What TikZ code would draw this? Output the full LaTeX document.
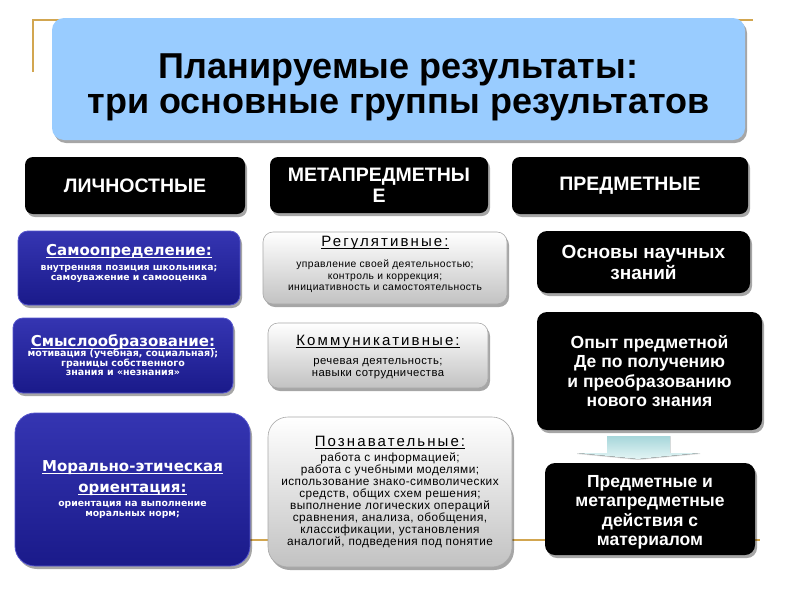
\documentclass[tikz,border=0pt]{standalone}
\usepackage{fontspec}
\setmainfont{Liberation Sans}
\newfontfamily\dvs{DejaVu Sans}
\newfontfamily\lsp[LetterSpace=14]{Liberation Sans}
\newfontfamily\lss[LetterSpace=4]{Liberation Sans}
\usetikzlibrary{shadows}
\definecolor{titleblue}{HTML}{99CCFF}
\definecolor{gold}{HTML}{D2A650}
\definecolor{bluetop}{HTML}{3535B2}
\definecolor{bluebot}{HTML}{1A1A8A}
\definecolor{blueedge}{HTML}{5555CC}
\definecolor{greyedge}{HTML}{A8A8A8}
\definecolor{greybot}{HTML}{C2C2C2}
\definecolor{arrtop}{HTML}{A6D6DA}
\definecolor{arrbot}{HTML}{E4F5F5}
\newcommand{\hdblue}{\dvs\bfseries\fontsize{15}{21}\selectfont}
\newcommand{\smb}[2]{\dvs\bfseries\fontsize{#1}{#2}\selectfont}
\newcommand{\hdgrey}{\lsp\fontsize{15}{18}\selectfont}
\newcommand{\smg}[2]{\lss\fontsize{#1}{#2}\selectfont}
\newcommand{\uln}[1]{\leavevmode\setbox0=\hbox{#1}\rlap{\rule[-2.2pt]{\wd0}{1.1pt}}\box0}
\newcommand{\blockt}[4]{\begin{minipage}{#1}\centering\lineskiplimit=-100pt\kern#2\relax #4\par\kern#3\relax\end{minipage}}
\begin{document}
\begin{tikzpicture}[x=1pt,y=-1pt,
  every node/.style={inner sep=0pt,outer sep=0pt},
  shad/.style={drop shadow={shadow xshift=2pt,shadow yshift=-3pt,fill=black,opacity=0.35}},
  titlebox/.style={shad,fill=titleblue,rounded corners=12pt},
  headbox/.style={shad,fill=black,rounded corners=8pt,text=white,align=center,font=\bfseries\fontsize{19.5}{21}\selectfont},
  bluebox/.style={shad,top color=bluetop,bottom color=bluebot,draw=blueedge,line width=0.8pt,rounded corners=10pt,text=white},
  bigblue/.style={bluebox,rounded corners=20pt},
  greybox/.style={shad,top color=white,bottom color=greybot,draw=greyedge,line width=0.6pt,rounded corners=10pt,text=black},
  biggrey/.style={greybox,rounded corners=20pt},
  darkbox/.style={shad,fill=black,rounded corners=10pt,text=white,align=center,font=\bfseries\fontsize{17.5}{19.5}\selectfont},
  goldline/.style={draw=gold,line width=1.2pt}
]
\useasboundingbox[fill=white] (0,0) rectangle (800,600);

% gold frame lines
\coordinate (g1) at (33,72);
\coordinate (g2) at (33,20);
\coordinate (g3) at (60,20);
\coordinate (g4) at (735,20);
\coordinate (g5) at (753,20);
\coordinate (g6) at (40,540);
\coordinate (g7) at (760,540);
\draw[goldline] (g1) -- (g2) -- (g3);
\draw[goldline] (g4) -- (g5);
\draw[goldline] (g6) -- (g7);

% title
\node[titlebox,minimum width=693pt,minimum height=122pt] (title) at (398.5,79)
  {\blockt{680pt}{17pt}{0pt}{\bfseries\fontsize{36}{35}\selectfont Планируемые результаты:\\ три основные группы результатов}};

% headers
\node[headbox,minimum width=220pt,minimum height=57pt] (h1) at (135,185.5) {ЛИЧНОСТНЫЕ};
\node[headbox,minimum width=218pt,minimum height=56pt] (h2) at (379,185) {МЕТАПРЕДМЕТНЫ\\Е};
\node[headbox,minimum width=236pt,minimum height=57pt] (h3) at (630,185.5) {ПРЕДМЕТНЫЕ};

% blue column
\node[bluebox,minimum width=222pt,minimum height=74pt] (b1) at (129,268)
  {\blockt{212pt}{0pt}{8.5pt}{\hdblue\uln{Самоопределение:}\par\vspace{5pt}
   \smb{9.3}{10}внутренняя позиция школьника;\\ самоуважение и самооценка}};
\node[bluebox,minimum width=220pt,minimum height=75pt] (b2) at (123,355.5)
  {\blockt{212pt}{0pt}{0pt}{\hdblue\uln{Смыслообразование:}\par\vspace{0.5pt}
   \smb{9.5}{9.5}мотивация (учебная, социальная);\\ границы собственного\\ знания и «незнания»}};
\node[bigblue,minimum width=235pt,minimum height=153pt] (b3) at (132.5,489.5)
  {\blockt{225pt}{0pt}{0pt}{\hdblue\uln{Морально-этическая}\\ \uln{ориентация:}\par\vspace{4pt}
   \smb{9.3}{10}ориентация на выполнение\\ моральных норм;}};

% grey column
\node[greybox,minimum width=244pt,minimum height=72pt] (m1) at (385,268)
  {\blockt{236pt}{0pt}{7pt}{\hdgrey\uln{Регулятивные:}\par\vspace{9.5pt}
   \smg{10.3}{11.5}управление своей деятельностью;\\ контроль и коррекция;\\ инициативность и самостоятельность}};
\node[greybox,minimum width=220pt,minimum height=65pt] (m2) at (378,355.5)
  {\blockt{212pt}{4pt}{0pt}{\hdgrey\uln{Коммуникативные:}\par\vspace{7pt}
   \smg{11.3}{12}речевая деятельность;\\ навыки сотрудничества}};
\node[biggrey,minimum width=244pt,minimum height=150pt] (m3) at (390,492)
  {\blockt{238pt}{0pt}{0pt}{\hdgrey\uln{Познавательные:}\par\vspace{3pt}
   \smg{11.8}{12}работа с информацией;\\ работа с учебными моделями;\\ использование знако-символических\\
   средств, общих схем решения;\\ выполнение логических операций\\ сравнения, анализа, обобщения,\\
   классификации, установления\\ аналогий, подведения под понятие}};

% right column
\node[darkbox,minimum width=213pt,minimum height=62pt,font=\bfseries\fontsize{19}{21}\selectfont] (r1) at (643.5,262)
  {Основы научных\\ знаний};
\node[darkbox,minimum width=225pt,minimum height=118pt] (r2) at (649.5,371)
  {Опыт предметной\\ Де по получению\\ и преобразованию\\ нового знания};

% block arrow
\coordinate (a1) at (607,436);
\coordinate (a2) at (670,436);
\coordinate (a3) at (670,453);
\coordinate (a4) at (700,453);
\coordinate (a5) at (638,459);
\coordinate (a6) at (577,453);
\coordinate (a7) at (607,453);
\fill[top color=arrtop,bottom color=arrbot,drop shadow={shadow xshift=0pt,shadow yshift=-1pt,opacity=0.3}]
  (a1) -- (a2) -- (a3) -- (a4) -- (a5) -- (a6) -- (a7) -- cycle;

\node[darkbox,minimum width=210pt,minimum height=92pt] (r3) at (650,509)
  {\blockt{200pt}{7pt}{0pt}{Предметные и\\ метапредметные\\ действия с\\ материалом}};
\end{tikzpicture}
\end{document}
